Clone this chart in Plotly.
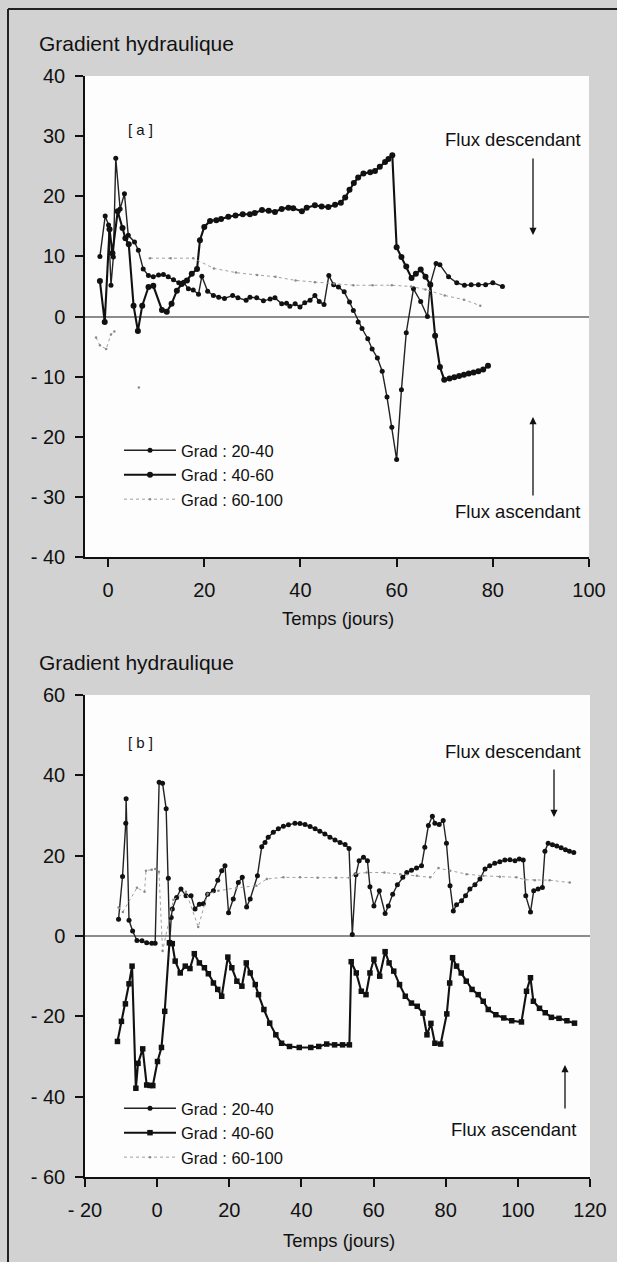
import plotly.graph_objects as go

W, H = 617, 1262

# ---------------- Panel a data ----------------
a_x_2040 = [-1.7, -0.6, 0.1, 0.6, 1.1, 1.6, 2.5, 3.4, 4.2, 5.5,
            6.3, 7.3, 8.4, 9.4, 10.5, 11.5, 12.5, 13.6, 14.7, 15.7,
            16.7, 17.7, 18.8, 19.5, 20.7, 21.9, 23.0, 24.2, 25.9, 27.0,
            28.7, 29.5, 30.9, 32.3, 33.7, 34.7, 36.1, 37.1, 37.8, 38.9,
            39.9, 40.9, 42.0, 43.0, 43.9, 44.9, 45.9, 46.9, 47.9, 49.1,
            50.2, 51.0, 52.0, 52.8, 54.0, 54.9, 56.0, 57.0, 58.0, 59.0,
            60.0, 61.0, 62.0, 63.5, 65.0, 66.4, 67.0, 68.2, 69.0, 70.8,
            72.5, 74.1, 75.5, 77.0, 78.5, 80.0, 82.0]
a_y_2040 = [10, 16.7, 15.2, 5.2, 9.9, 26.3, 17.9, 20.4, 13.5, 12.4,
            11.0, 7.9, 6.8, 6.6, 6.9, 7.0, 6.6, 6.1, 5.6, 5.7,
            4.6, 4.4, 3.7, 6.7, 4.2, 3.5, 3.2, 3.0, 3.5, 3.1,
            2.7, 3.2, 3.1, 2.6, 2.9, 3.1, 2.1, 2.2, 1.7, 2.1,
            1.6, 2.3, 2.7, 3.5, 2.5, 2.0, 6.8, 5.3, 4.9, 4.1,
            2.4, 1.0, -0.9, -2.0, -3.7, -5.4, -6.9, -9.1, -13.4, -18.4,
            -23.8, -12.2, -2.7, 4.6, 2.5, 0.0, 5.4, 8.8, 8.6, 6.6,
            5.6, 5.2, 5.3, 5.3, 5.3, 5.6, 5.0]

a_x_4060 = [-1.7, -0.7, 0.3, 0.9, 2.0, 3.0, 3.6, 4.3, 5.3, 6.2,
            7.1, 8.4, 9.4, 11.2, 12.2, 13.2, 14.3, 15.3, 16.4, 17.4,
            18.5, 19.1, 20.0, 21.2, 22.5, 23.5, 25.0, 26.5, 28.0, 29.5,
            30.5, 32.0, 33.4, 34.7, 36.1, 37.5, 38.5, 40.3, 41.3, 43.0,
            44.4, 45.8, 47.2, 48.4, 49.3, 50.2, 51.1, 52.0, 53.1, 54.5,
            55.5, 56.5, 57.6, 58.3, 59.1, 60.0, 61.0, 62.0, 63.1, 64.0,
            65.0, 66.0, 67.0, 68.0, 69.0, 69.9, 71.0, 72.0, 73.0, 74.0,
            75.0, 76.0, 77.0, 78.0, 79.0]
a_y_4060 = [5.9, -0.9, 14.5, 10.5, 17.5, 14.7, 13.0, 12.0, 1.8, -2.4,
            1.8, 4.9, 5.1, 1.1, 0.8, 2.1, 4.3, 5.4, 6.0, 7.1,
            7.9, 12.7, 14.9, 15.9, 16.0, 16.2, 16.6, 16.8, 17.0, 17.0,
            17.2, 17.7, 17.6, 17.4, 17.9, 18.1, 18.0, 17.5, 18.1, 18.5,
            18.3, 18.2, 18.6, 18.9, 19.8, 21.1, 22.2, 23.1, 23.8, 24.0,
            24.2, 24.9, 25.7, 26.2, 26.8, 11.5, 9.9, 8.3, 6.4, 7.1,
            7.8, 6.6, 5.3, -3.2, -8.4, -10.5, -10.3, -10.1, -9.9, -9.7,
            -9.5, -9.3, -9.1, -8.8, -8.2]

a_x_60100 = [-2.5, -1.7, -0.4, 0.6, 1.3, None, 6.4, None,
             8.7, 13.0, 17.7, 22.0, 26.6, 31.0, 34.8, 39.0, 43.0, 47.0,
             51.0, 55.0, 59.0, 63.0, 66.0, 70.0, 74.0, 77.4]
a_y_60100 = [-3.5, -4.8, -5.4, -3.0, -2.5, None, -11.8, None,
             9.7, 9.7, 9.7, 8.0, 7.3, 6.9, 6.6, 6.0, 5.7, 5.5,
             5.2, 5.2, 5.2, 5.0, 4.5, 3.5, 2.8, 1.8]

# ---------------- Panel b data ----------------
b_x_2040 = [-10.7, -9.6, -8.7, -8.6, -7.8, -6.8, -5.6, -4.2, -2.9, -1.5,
            -0.55, 0.55, 1.5, 2.5, 3.1, 3.5, 3.9, 4.2, 5.4, 6.6,
            8.0, 9.4, 10.5, 11.7, 12.8, 14.0, 15.6, 16.8, 17.9, 18.8,
            19.8, 21.1, 22.5, 23.6, 24.8, 25.8, 27.8, 29.0, 29.9, 30.8,
            32.2, 33.6, 35.0, 36.4, 38.2, 39.6, 41.0, 42.4, 43.8, 45.1,
            46.5, 47.9, 49.3, 50.7, 52.1, 53.2, 54.1, 55.1, 56.0, 57.2,
            58.3, 59.0, 60.1, 61.6, 63.2, 64.1, 65.3, 66.6, 68.1, 69.2,
            70.5, 71.9, 73.3, 74.2, 75.2, 76.3, 77.0, 78.2, 79.3, 80.2,
            81.2, 82.1, 83.0, 84.4, 85.5, 86.7, 88.1, 89.5, 90.9, 92.2,
            93.6, 95.0, 96.4, 97.8, 99.2, 100.4, 101.5, 102.2, 103.5, 104.4,
            105.6, 106.8, 107.5, 108.4, 109.6, 110.8, 112.0, 113.2, 114.3, 115.5]
b_y_2040 = [4.2, 14.8, 28.1, 34.2, 3.9, 1.25, -1.1, -1.2, -1.7, -1.8,
            -1.8, 38.3, 38.0, 31.7, 14.4, -1.5, 4.6, 6.7, 9.6, 11.7,
            10.0, 10.0, 6.7, 7.9, 8.0, 10.4, 11.25, 13.9, 16.25, 17.5,
            5.8, 9.2, 13.3, 14.6, 7.25, 9.2, 15.0, 22.25, 23.3, 24.6,
            25.8, 26.7, 27.3, 27.7, 28.1, 28.0, 27.75, 27.25, 26.7, 26.1,
            25.4, 24.6, 23.9, 23.3, 22.75, 21.8, 0.4, 15.25, 18.75, 19.6,
            18.75, 12.25, 7.5, 11.25, 5.6, 7.5, 10.4, 12.75, 14.6, 15.8,
            16.4, 16.9, 17.5, 22.1, 27.5, 29.8, 28.1, 27.75, 28.75, 23.1,
            12.5, 6.25, 7.75, 8.75, 10.0, 11.7, 12.75, 14.2, 16.7, 17.5,
            18.1, 18.5, 18.9, 19.0, 18.75, 19.2, 18.9, 10.0, 6.0, 11.25,
            11.7, 12.1, 21.1, 23.1, 22.7, 22.4, 22.0, 21.5, 21.1, 20.8]

b_x_4060 = [-11.0, -9.9, -8.8, -7.8, -6.95, -5.9, -5.3, -4.0, -2.9, -2.0,
            -1.2, 0.1, 1.2, 2.1, 3.4, 4.2, 5.0, 6.4, 7.8, 9.1,
            10.3, 11.7, 13.1, 14.2, 15.6, 16.8, 17.9, 19.6, 20.7, 22.1,
            23.5, 24.7, 25.8, 27.2, 28.1, 29.6, 31.2, 32.9, 34.5, 36.7,
            39.4, 42.6, 44.8, 47.0, 49.2, 51.4, 53.3, 53.8, 55.2, 56.6,
            57.9, 59.0, 60.1, 61.7, 63.2, 64.3, 65.6, 67.2, 68.8, 70.5,
            72.1, 73.7, 74.8, 75.9, 77.0, 78.6, 80.3, 81.1, 81.9, 83.0,
            84.3, 85.7, 87.3, 89.0, 90.4, 91.8, 93.9, 96.1, 98.3, 101.0,
            102.4, 103.5, 104.3, 106.0, 107.6, 109.3, 111.4, 113.6, 115.7]
b_y_4060 = [-26.25, -21.25, -16.9, -11.9, -7.5, -37.9, -31.7, -28.1, -37.1, -37.2,
            -37.25, -31.25, -27.75, -18.75, -1.7, -1.9, -6.25, -9.2, -7.5, -8.1,
            -4.4, -6.7, -7.9, -9.4, -11.7, -13.3, -15.0, -5.25, -7.9, -11.25,
            -12.5, -6.7, -9.2, -12.1, -14.6, -18.3, -21.7, -24.6, -26.7, -27.5,
            -27.75, -27.75, -27.5, -26.9, -27.1, -27.1, -27.1, -6.4, -9.2, -13.75,
            -14.6, -9.2, -5.8, -10.0, -3.9, -6.7, -8.75, -12.1, -15.0, -16.7,
            -17.5, -19.2, -24.6, -21.75, -26.7, -26.9, -19.4, -11.7, -5.4, -7.5,
            -9.2, -11.25, -13.3, -14.6, -16.25, -18.3, -19.6, -20.4, -21.1, -21.4,
            -13.75, -10.4, -16.25, -18.0, -19.1, -20.25, -20.5, -21.1, -21.7]

b_x_60100 = [-10.7, -9.5, -5.6, -3.5, -3.1, -1.5, -0.5, 0.5, 1.5, 4.5,
             8.0, 11.4, 14.0, 17.0, 22.0, 27.5, 30.4, 35.0, 39.6, 44.5,
             49.6, 53.3, 55.0, 58.1, 63.0, 67.4, 72.0, 75.7, 78.0, 81.2,
             85.8, 90.4, 95.0, 99.6, 102.0, 104.7, 108.8, 114.4]
b_y_60100 = [7.1, 6.0, 12.0, 11.0, 16.25, 16.5, 16.7, 16.0, -3.75, 9.0,
             11.0, 2.25, 10.5, 11.25, 12.0, 12.5, 14.2, 14.6, 14.6, 14.5,
             14.5, 14.5, 15.5, 15.8, 15.8, 15.4, 15.0, 14.6, 16.9, 16.25,
             15.4, 15.0, 14.75, 14.6, 14.0, 13.9, 13.9, 13.3]

series_names = ["Grad : 20-40", "Grad : 40-60", "Grad : 60-100"]

a_xticks = [0, 20, 40, 60, 80, 100]
a_xticktext = ["0", "20", "40", "60", "80", "100"]
a_yticks = [40, 30, 20, 10, 0, -10, -20, -30, -40]
a_yticktext = ["40", "30", "20", "10", "0", "- 10", "- 20", "- 30", "- 40"]
b_xticks = [-20, 0, 20, 40, 60, 80, 100, 120]
b_xticktext = ["- 20", "0", "20", "40", "60", "80", "100", "120"]
b_yticks = [60, 40, 20, 0, -20, -40, -60]
b_yticktext = ["60", "40", "20", "0", "- 20", "- 40", "- 60"]

for xs, ys in [(a_x_2040, a_y_2040), (a_x_4060, a_y_4060), (a_x_60100, a_y_60100),
               (b_x_2040, b_y_2040), (b_x_4060, b_y_4060), (b_x_60100, b_y_60100)]:
    assert len(xs) == len(ys), (len(xs), len(ys))


def fx(px):
    return px / W


def fy(py):
    return 1 - py / H


FONT = "Liberation Sans, Arial, Helvetica, sans-serif"
INK = "#111111"

fig = go.Figure()

styles = [
    dict(mode="lines+markers", line=dict(color="#222222", width=1.4),
         marker=dict(size=5, color=INK, symbol="circle")),
    dict(mode="lines+markers", line=dict(color=INK, width=2.1),
         marker=dict(size=6, color=INK, symbol="circle")),
    dict(mode="lines+markers", line=dict(color="#a0a0a0", width=1, dash="dot"),
         marker=dict(size=2.5, color="#8a8a8a")),
]

for (xs, ys), name, st in zip([(a_x_2040, a_y_2040), (a_x_4060, a_y_4060), (a_x_60100, a_y_60100)],
                              series_names, styles):
    fig.add_trace(go.Scatter(x=xs, y=ys, name=name, xaxis="x", yaxis="y",
                             legend="legend", connectgaps=False, **st))

styles_b = [dict(styles[0]), dict(styles[1]), dict(styles[2])]
styles_b[1] = dict(mode="lines+markers", line=dict(color=INK, width=2.1),
                   marker=dict(size=5.5, color=INK, symbol="square"))
for (xs, ys), name, st in zip([(b_x_2040, b_y_2040), (b_x_4060, b_y_4060), (b_x_60100, b_y_60100)],
                              series_names, styles_b):
    fig.add_trace(go.Scatter(x=xs, y=ys, name=name, xaxis="x2", yaxis="y2",
                             legend="legend2", connectgaps=False, **st))

axis_common = dict(showline=True, linecolor=INK, linewidth=1.5, ticks="outside",
                   ticklen=8, tickwidth=1.5, tickcolor=INK, showgrid=False,
                   automargin=False,
                   tickfont=dict(family=FONT, size=20, color=INK), ticklabelstandoff=6)

legend_common = dict(xanchor="left", yanchor="top", bgcolor="rgba(0,0,0,0)",
                     font=dict(family=FONT, size=16.5, color=INK),
                     itemwidth=52, tracegroupgap=0, traceorder="normal")

fig.update_layout(
    template="none",
    width=W, height=H, autosize=False,
    margin=dict(l=0, r=0, t=0, b=0, pad=0),
    paper_bgcolor="#d2d2d2",
    plot_bgcolor="#fdfdfd",
    font=dict(family=FONT, color=INK),
    xaxis=dict(domain=[fx(85), fx(589)], range=[-4.8, 100], anchor="y",
               tickvals=a_xticks, ticktext=a_xticktext, zeroline=False, **axis_common),
    yaxis=dict(domain=[fy(557), fy(76)], range=[-40, 40], anchor="x",
               tickvals=a_yticks, ticktext=a_yticktext, zeroline=True,
               zerolinecolor="#8c8c8c", zerolinewidth=1.5, **axis_common),
    xaxis2=dict(domain=[fx(85), fx(590)], range=[-20, 120], anchor="y2",
                tickvals=b_xticks, ticktext=b_xticktext, zeroline=False, **axis_common),
    yaxis2=dict(domain=[fy(1177), fy(695)], range=[-60, 60], anchor="x2",
                tickvals=b_yticks, ticktext=b_yticktext, zeroline=True,
                zerolinecolor="#8c8c8c", zerolinewidth=1.5, **axis_common),
    legend=dict(x=fx(119), y=fy(433), **legend_common),
    legend2=dict(x=fx(119), y=fy(1091), **legend_common),
    showlegend=True,
)

ann = []


def text(px, py, s, size, xanchor="center"):
    ann.append(dict(x=fx(px), y=fy(py), xref="paper", yref="paper", text=s,
                    showarrow=False, xanchor=xanchor, yanchor="middle",
                    font=dict(family=FONT, size=size, color=INK)))


def arrow(px, py_head, py_tail):
    ann.append(dict(x=fx(px), y=fy(py_head), xref="paper", yref="paper", text="",
                    showarrow=True, axref="pixel", ayref="pixel", ax=0, ay=py_tail - py_head,
                    arrowhead=2, arrowsize=1.1, arrowwidth=1.3, arrowcolor=INK))


text(37, 43, "Gradient hydraulique", 21, "left")
text(37, 663, "Gradient hydraulique", 21, "left")
text(140, 130, "[ a ]", 15)
text(140, 742, "[ b ]", 15)
text(513, 140, "Flux descendant", 18.5)
text(517, 511, "Flux ascendant", 18.5)
text(513, 751, "Flux descendant", 18.5)
text(513, 1129, "Flux ascendant", 18.5)
text(338, 618, "Temps (jours)", 18.5)
text(339, 1240, "Temps (jours)", 18.5)
arrow(533, 235, 157)
arrow(533, 417, 497)
arrow(554, 817, 768)
arrow(565, 1065, 1110)

fig.update_layout(annotations=ann)

# scan frame (left and top edges of the page)
fig.update_layout(shapes=[
    dict(type="line", xref="paper", yref="paper", x0=fx(8), x1=1, y0=fy(9), y1=fy(9),
         line=dict(color="#222222", width=2)),
    dict(type="line", xref="paper", yref="paper", x0=fx(8), x1=fx(8), y0=fy(9), y1=0,
         line=dict(color="#222222", width=2)),
])

fig.write_html("out.html")
